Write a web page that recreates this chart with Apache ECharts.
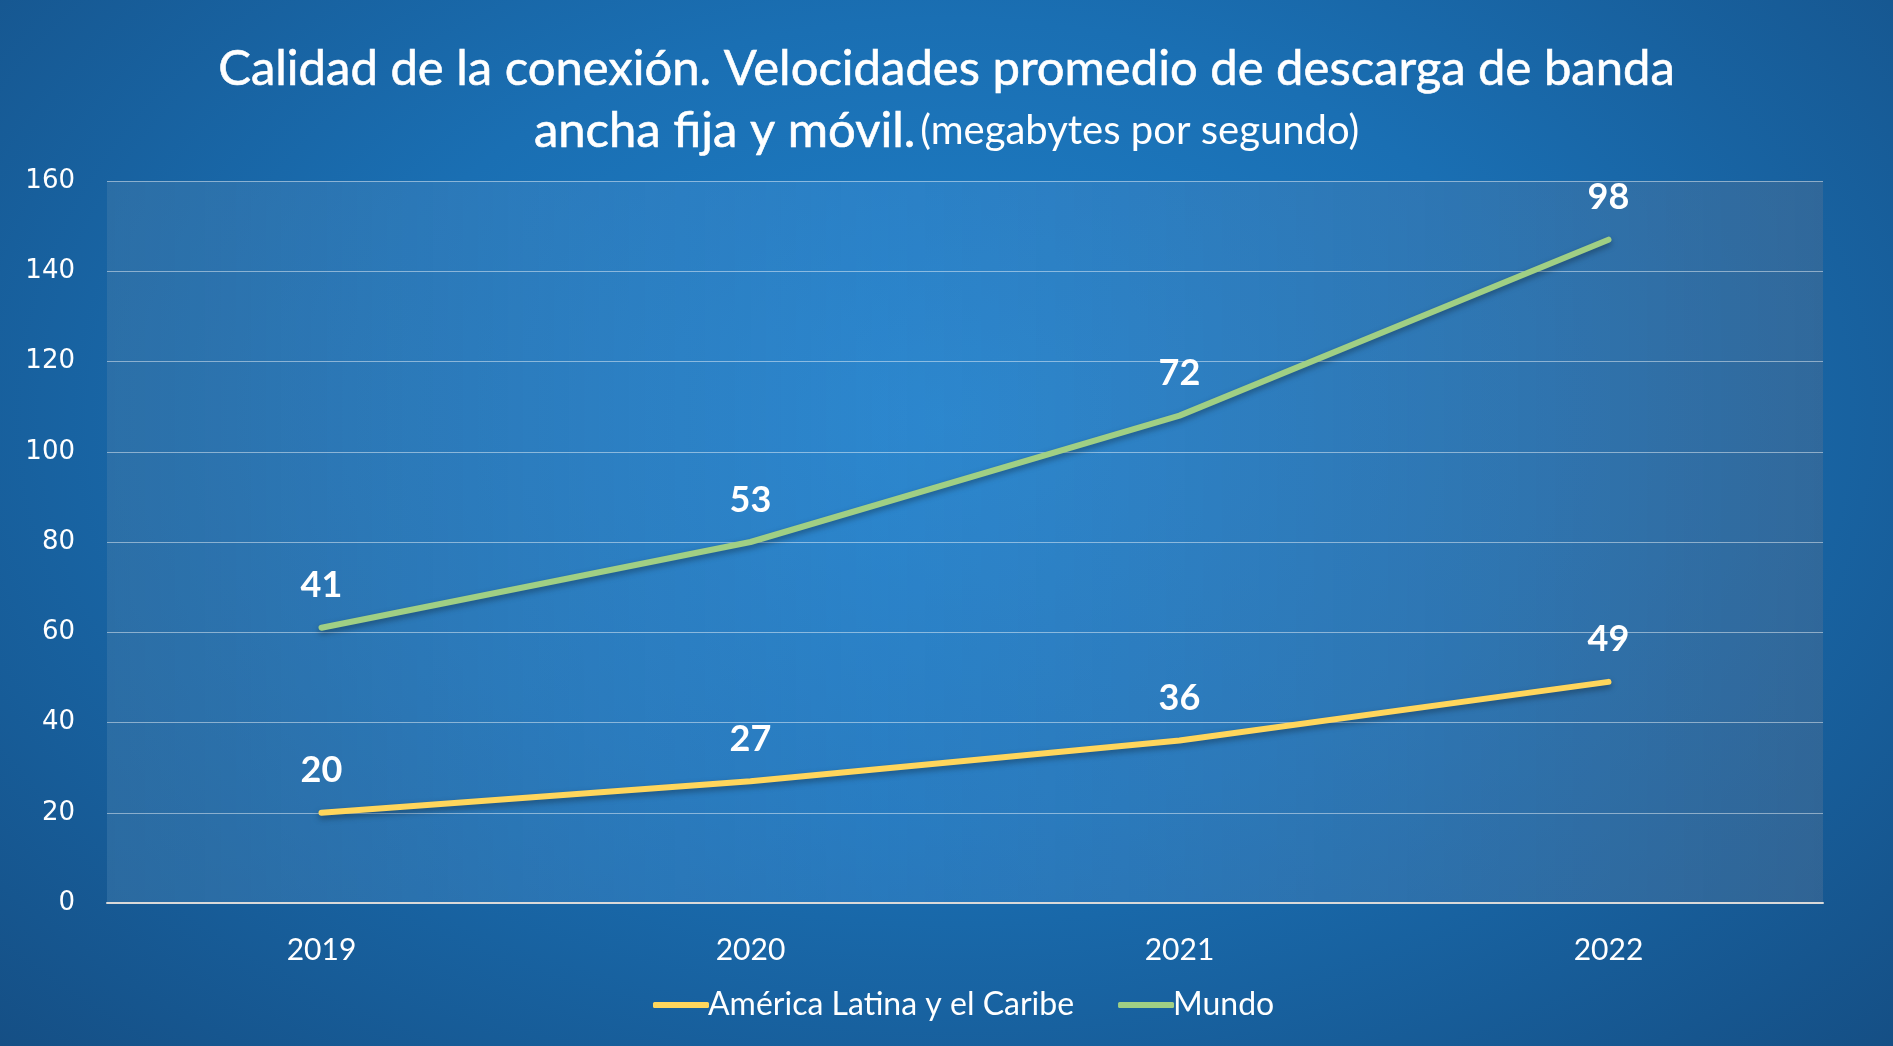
<!DOCTYPE html>
<html>
<head>
<meta charset="utf-8">
<script src="https://cdn.jsdelivr.net/npm/echarts@6/dist/echarts.min.js"></script>
<style>
html,body{margin:0;padding:0;width:1893px;height:1046px;overflow:hidden;}
body{background:radial-gradient(ellipse at 50% 40%, #1f80c8 0%, #1a6fb3 45%, #154f85 100%);}
#chart{width:1893px;height:1046px;}
</style>
</head>
<body>
<div id="chart"></div>
<script>
const categories = ['2019', '2020', '2021', '2022'];
const alcValues = [20, 27, 36, 49];
const mundoValues = [41, 53, 72, 98];
const yTicks = [0, 20, 40, 60, 80, 100, 120, 140, 160];
const seriesNames = ['América Latina y el Caribe', 'Mundo'];

const chart = echarts.init(document.getElementById('chart'));
const labelStyle = {
  show: true, position: 'top', distance: 24,
  color: '#ffffff', fontFamily: 'Lato', fontWeight: 'bold', fontSize: 36
};
function lineSeries(name, data, color) {
  return {
    name: name, type: 'line', stack: 'total', data: data,
    symbol: 'circle', symbolSize: 0, showSymbol: true,
    lineStyle: { color: color, width: 6, cap: 'round',
      shadowColor: 'rgba(0,0,0,0.35)', shadowBlur: 6, shadowOffsetY: 3 },
    itemStyle: { color: color }, label: labelStyle
  };
}
chart.setOption({
  backgroundColor: 'transparent',
  title: {
    left: 'center', top: 33,
    text: '{a|Calidad de la conexión. Velocidades promedio de descarga de banda}\n{a|ancha fija y móvil.} {b|(megabytes por segundo)}',
    textStyle: {
      rich: {
        a: { fontFamily: 'Lato', fontSize: 49, fontWeight: 'normal', color: '#ffffff', lineHeight: 62, textBorderColor: '#ffffff', textBorderWidth: 0.6 },
        b: { fontFamily: 'Lato', fontSize: 40, fontWeight: 'normal', color: '#ffffff', lineHeight: 62 }
      }
    }
  },
  legend: {
    bottom: 20, left: 648, itemGap: 44, itemWidth: 56, itemHeight: 6,
    icon: 'roundRect',
    textStyle: { color: '#ffffff', fontFamily: 'Lato', fontSize: 32, padding: [0, 0, 0, -6] },
    data: seriesNames
  },
  grid: {
    left: 107, right: 70, top: 181, bottom: 143, show: true, borderWidth: 0,
    backgroundColor: new echarts.graphic.LinearGradient(0, 0, 1, 0, [
      { offset: 0, color: 'rgba(60,120,170,0.55)' },
      { offset: 0.45, color: 'rgba(70,150,220,0.35)' },
      { offset: 1, color: 'rgba(70,110,150,0.55)' }
    ])
  },
  xAxis: {
    type: 'category', data: categories, boundaryGap: true,
    axisLine: { lineStyle: { color: '#d9d9d9', width: 2 } },
    axisTick: { show: false },
    axisLabel: { color: '#ffffff', fontFamily: 'Lato', fontSize: 30, margin: 32 }
  },
  yAxis: {
    type: 'value', min: yTicks[0], max: yTicks[yTicks.length - 1], interval: 20,
    axisLine: { show: false }, axisTick: { show: false },
    splitLine: { lineStyle: { color: 'rgba(255,255,255,0.45)', width: 1 } },
    axisLabel: { color: '#ffffff', fontFamily: 'DejaVu Sans', fontSize: 26, margin: 32 }
  },
  series: [
    lineSeries(seriesNames[0], alcValues, '#FFD65C'),
    lineSeries(seriesNames[1], mundoValues, '#A0CF84')
  ]
});
</script>
</body>
</html>
